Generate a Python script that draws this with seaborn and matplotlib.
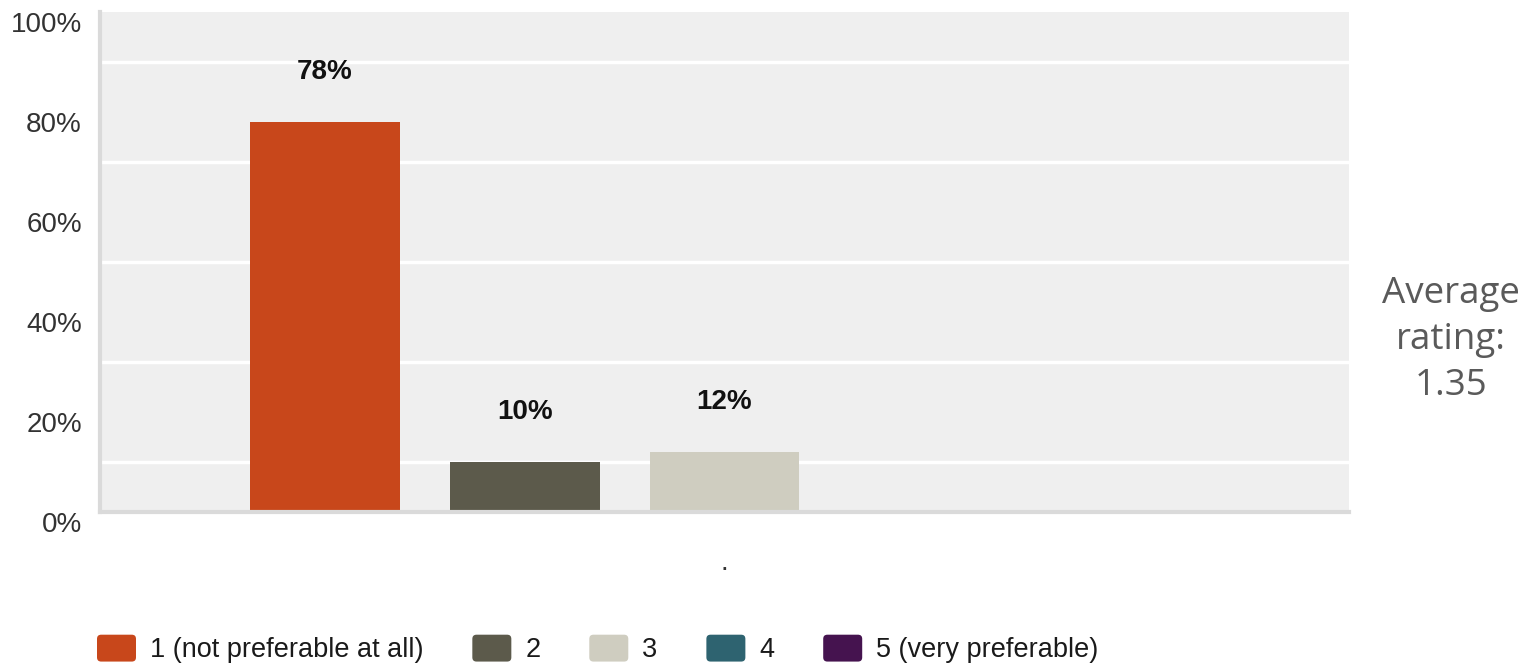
"""
Rating distribution bar chart (survey style) with average rating on the side.
"""

import pandas as pd
import matplotlib.pyplot as plt
import matplotlib.transforms as mtransforms
import seaborn as sns
from matplotlib.patches import Patch, FancyBboxPatch
from matplotlib.legend_handler import HandlerPatch

# data
ratings = ["1 (not preferable at all)", "2", "3", "4", "5 (very preferable)"]
percents = [78, 10, 12, 0, 0]
colors = ["#c8471b", "#5c5a4b", "#cfcdc0", "#2e6370", "#45134f"]
question = ["."] * len(ratings)
y_ticks = [0, 20, 40, 60, 80, 100]
y_grid = [10, 20, 30, 40, 50, 60, 70, 80, 90]
avg_rating = 1.35

df = pd.DataFrame({"question": question, "rating": ratings, "percent": percents})


class RoundedHandler(HandlerPatch):
    """Legend handle drawn as a small rounded square."""

    def create_artists(self, legend, orig_handle, xdescent, ydescent,
                       width, height, fontsize, trans):
        box = FancyBboxPatch((-xdescent, -ydescent), width, height,
                             boxstyle="round,pad=0,rounding_size=3",
                             facecolor=orig_handle.get_facecolor(),
                             edgecolor="none", transform=trans)
        return [box]


sns.set_style("white")
plt.rcParams["font.family"] = ["Liberation Sans", "DejaVu Sans"]

W, H = 1532, 663
fig = plt.figure(figsize=(W / 100, H / 100), dpi=100)
ax = fig.add_axes([100 / W, 151 / H, 1249 / W, 500 / H])

sns.barplot(data=df, x="question", y="percent", hue="rating",
            hue_order=ratings, palette=colors, width=0.8, gap=0.25,
            saturation=1, linewidth=0, legend=False, ax=ax)

# value labels above non-empty bars
for bar, val in zip(ax.patches, percents):
    if val > 0:
        ax.text(bar.get_x() + bar.get_width() / 2, bar.get_height() + 10,
                f"{val}%", ha="center", va="center", fontsize=20,
                fontweight="bold", color="#111111")

ax.set_xlim(-0.5, 0.5)
ax.set_ylim(0, 100)
ax.set_facecolor("#efefef")
ax.set_yticks(y_ticks)
ax.set_yticklabels([f"{t}%" for t in y_ticks])
ax.set_yticks(y_grid, minor=True)
ax.grid(False)
ax.grid(True, which="minor", axis="y", color="white", linewidth=2.5)
ax.set_axisbelow(True)
ax.set_xlabel("")
ax.set_ylabel("")

for side in ["top", "right"]:
    ax.spines[side].set_visible(False)
for side in ["left", "bottom"]:
    ax.spines[side].set_color("#dadada")
    ax.spines[side].set_linewidth(3)

ax.tick_params(axis="y", which="both", length=0, pad=13, labelsize=20,
               labelcolor="#333333")
ax.tick_params(axis="x", length=0, pad=27, labelsize=20, labelcolor="#333333")

# y labels sit a little below their grid lines
shift = mtransforms.ScaledTranslation(0, -10 / 100, fig.dpi_scale_trans)
for lab in ax.get_yticklabels():
    lab.set_transform(lab.get_transform() + shift)

handles = [Patch(facecolor=c) for c in colors]
fig.legend(handles, ratings, loc="center left",
           bbox_to_anchor=(97 / W, 14 / H), ncol=5, frameon=False,
           fontsize=19.5, handlelength=1.44, handleheight=1.15,
           handletextpad=0.52, columnspacing=1.8, borderpad=0,
           borderaxespad=0, labelcolor="#1a1a1a",
           handler_map={Patch: RoundedHandler()})

fig.text(1451 / W, (H - 340) / H, f"Average\nrating:\n{avg_rating:.2f}",
         ha="center", va="center", fontsize=26.5, family="Open Sans",
         color="#5a5a5a", linespacing=1.36)

fig.savefig("out.png", dpi=100)
